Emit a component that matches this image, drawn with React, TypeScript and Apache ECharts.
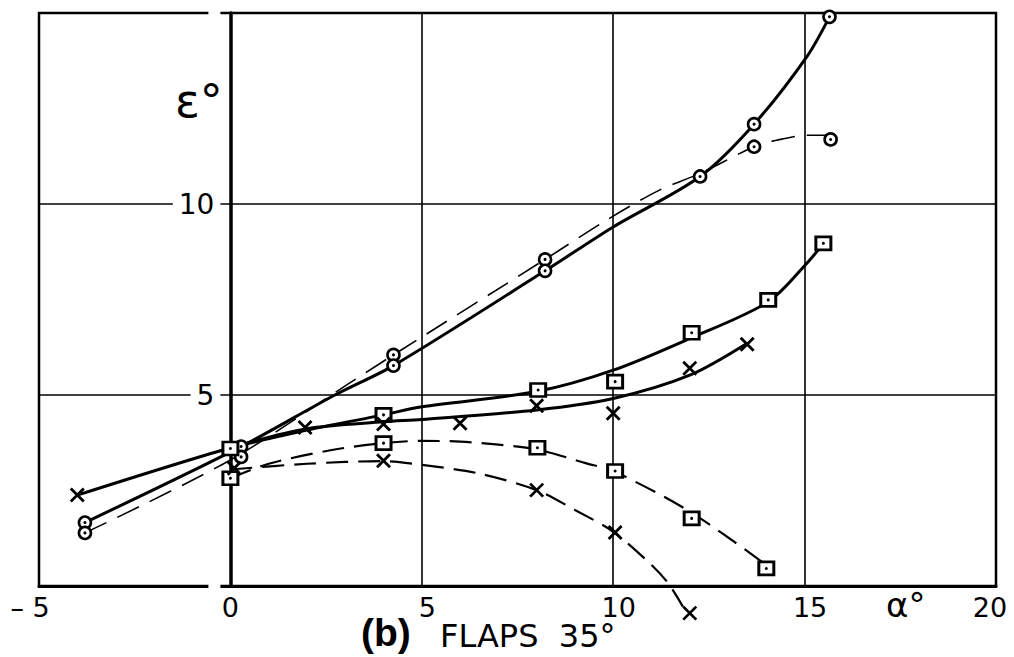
import React, { useEffect, useRef } from "react";
import * as echarts from "echarts";

// Axis ticks
const xTickLabels: Record<number, string> = {
  [-5]: "{n|– 5}", 0: "0", 5: "{p|5}", 10: "{p|10}", 15: "{p|15}", 20: "{q|20}",
};
const yTickLabels: Record<number, string> = { 5: "5", 10: "10" };

// Faired curves  [alpha, epsilon]
const circleSolidCurve = [
  [-3.8, 1.66], [0.28, 3.65], [2.73, 5.0], [4.26, 5.77], [8.22, 8.25], [10, 9.4],
  [12.27, 10.72], [13.68, 12.09], [15.06, 13.86], [15.65, 14.9],
];
const circleDashedCurve = [
  [-3.8, 1.39], [0, 3.3], [3.17, 5.35], [4.26, 6.05], [8.22, 8.55], [9.83, 9.58],
  [11.22, 10.37], [12.27, 10.8], [13.68, 11.5], [14.27, 11.67], [15.06, 11.8], [15.6, 11.8],
];
const squareSolidCurve = [
  [0, 3.62], [2, 4.08], [4, 4.48], [5, 4.69], [8, 5.09], [10, 5.65], [12, 6.48],
  [14.05, 7.44], [15.06, 8.45], [15.49, 8.97],
];
const squareDashedCurve = [
  [0, 2.82], [1, 3.2], [2.65, 3.56], [4, 3.74], [5, 3.8], [6, 3.78], [7, 3.7], [8, 3.58],
  [9.3, 3.21], [10, 3.01], [12, 1.95], [14, 0.55],
];
const crossSolidCurve = [
  [-4, 2.38], [0, 3.62], [2, 4.12], [4, 4.3], [5, 4.36], [8, 4.61], [10, 4.91],
  [12, 5.52], [13.49, 6.35],
];
const crossDashedCurve = [
  [0, 3.05], [2, 3.2], [4, 3.27], [5, 3.17], [6.47, 2.95], [8, 2.51], [9, 1.99],
  [10, 1.42], [10.96, 0.59], [11.43, 0.08], [11.82, -0.54],
];

// Test points
const circlePoints = [
  [-3.8, 1.66], [-3.8, 1.39], [0.28, 3.65], [0.28, 3.38], [4.26, 6.05], [4.26, 5.77],
  [8.22, 8.55], [8.22, 8.25], [12.27, 10.72], [13.68, 12.09], [13.68, 11.5],
  [15.65, 14.9], [15.68, 11.69],
];
const squarePoints = [
  [0, 3.6], [0, 2.82], [4, 4.48], [4, 3.74], [8.04, 5.13], [8.02, 3.62], [10.05, 5.35],
  [10.05, 3.01], [12.05, 6.63], [12.05, 1.77], [14.05, 7.49], [14.0, 0.46], [15.49, 8.97],
];
const crossPoints = [
  [-4, 2.38], [0.1, 3.08], [1.95, 4.15], [4, 4.24], [4, 3.28], [6, 4.26], [8, 4.72],
  [8, 2.51], [10, 4.52], [10.05, 1.4], [12, 5.7], [12, -0.71], [13.5, 6.33],
];

const FONT = "DejaVu Sans";
const X_MIN = -5;
const X_MAX = 20;
const GRID = { left: 39, right: 18, top: 13, bottom: 71 };
const WIDTH = 1014;
const HEIGHT = 657;

function solid(data: number[][]) {
  return {
    type: "line", data, showSymbol: false, smooth: 0.3, clip: false, silent: true, z: 2,
    lineStyle: { color: "#000", width: 3 },
  };
}
function dashed(data: number[][], width = 2.2, dash = [22, 10]) {
  return {
    type: "line", data, showSymbol: false, smooth: 0.3, clip: false, silent: true, z: 2,
    lineStyle: { color: "#000", width, type: dash },
  };
}

export default function App() {
  const ref = useRef<HTMLDivElement>(null);
  useEffect(() => {
    if (!ref.current) return;
    const chart = echarts.init(ref.current, null, { renderer: "svg" });
    // y axis sits on alpha = 0
    const plotW = WIDTH - GRID.left - GRID.right;
    const yAxisOffset = -((0 - X_MIN) / (X_MAX - X_MIN)) * plotW;
    const labelBase = { color: "#000", fontSize: 27, fontFamily: FONT };
    chart.setOption({
      animation: false,
      backgroundColor: "#fff",
      grid: {
        ...GRID, show: true, outerBoundsMode: "none", containLabel: false,
        borderColor: "#000", borderWidth: 2.5, backgroundColor: "transparent",
      },
      xAxis: {
        type: "value", min: X_MIN, max: X_MAX, interval: 5,
        axisLine: { onZero: false, lineStyle: { color: "#000", width: 3 } },
        axisTick: { show: false },
        splitLine: { show: true, lineStyle: { color: "#000", width: 1.6 } },
        axisLabel: {
          ...labelBase, margin: 8,
          formatter: (v: number) => xTickLabels[v] ?? "",
          rich: {
            n: { ...labelBase, padding: [0, 18, 0, 0] },
            p: { ...labelBase, padding: [0, 0, 0, 11] },
            q: { ...labelBase, padding: [0, 12, 0, 0] },
          },
        },
      },
      yAxis: {
        type: "value", min: 0, max: 15, interval: 5, offset: yAxisOffset,
        axisLine: { onZero: false, lineStyle: { color: "#000", width: 3.5 } },
        axisTick: { show: false },
        splitLine: { show: true, lineStyle: { color: "#000", width: 1.6 } },
        axisLabel: {
          color: "#000", fontSize: 28, fontFamily: FONT, margin: 10,
          backgroundColor: "#fff", padding: [2, 6],
          formatter: (v: number) => yTickLabels[v] ?? "",
        },
      },
      graphic: [
        {
          type: "text", left: 175, top: 78, z: 10,
          style: { text: "ε°", font: `46px ${FONT}`, fill: "#000" },
        },
        {
          type: "text", left: 886, top: 588, z: 10,
          style: { text: "α°", font: `34px ${FONT}`, fill: "#000" },
        },
        {
          type: "text", left: 361, top: 613, z: 10,
          style: { text: "(b)", font: `bold 39px "Liberation Sans"`, fill: "#000" },
        },
        {
          type: "text", left: 440, top: 620, z: 10,
          style: { text: "FLAPS  35°", font: `32px ${FONT}`, fill: "#000" },
        },
      ],
      series: [
        solid(circleSolidCurve),
        dashed(circleDashedCurve, 1.6, [24, 12]),
        solid(squareSolidCurve),
        dashed(squareDashedCurve),
        solid(crossSolidCurve),
        dashed(crossDashedCurve),
        {
          type: "scatter", data: circlePoints, symbol: "circle", symbolSize: 12, clip: false, z: 3,
          itemStyle: { color: "#fff", borderColor: "#000", borderWidth: 2.6, opacity: 1 },
        },
        {
          type: "scatter", data: squarePoints, symbol: "rect", symbolSize: [15, 13], clip: false, z: 3,
          itemStyle: { color: "#fff", borderColor: "#000", borderWidth: 2.8, opacity: 1 },
        },
        {
          type: "scatter", data: crossPoints, symbol: "path://M0 0L10 10M10 0L0 10", symbolSize: 13,
          clip: false, z: 3,
          itemStyle: { color: "none", borderColor: "#000", borderWidth: 2.8, opacity: 1 },
        },
        {
          type: "scatter", data: circlePoints.concat(squarePoints), symbol: "circle", symbolSize: 3,
          clip: false, z: 4, itemStyle: { color: "#000", opacity: 1 },
        },
      ],
    });
    return () => chart.dispose();
  }, []);
  return (
    <div
      ref={ref}
      style={{ position: "fixed", left: 0, top: 0, width: WIDTH, height: HEIGHT, background: "#fff" }}
    />
  );
}
